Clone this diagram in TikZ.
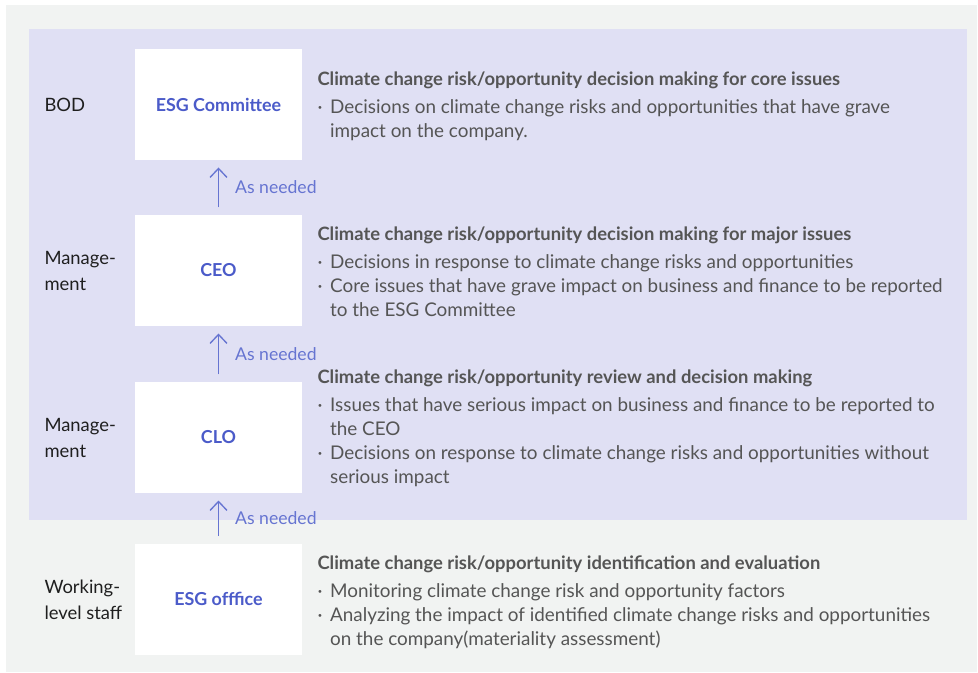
\documentclass[tikz,border=0pt]{standalone}
\usepackage{fontspec}
\setmainfont{Lato}
\usetikzlibrary{arrows.meta}

\definecolor{panelgray}{RGB}{241,243,242}
\definecolor{lavender}{RGB}{224,224,244}
\definecolor{boxblue}{RGB}{75,91,201}
\definecolor{textgray}{RGB}{85,85,85}

\tikzset{every picture/.style={line width=0.75pt}}
\tikzset{
  levelbox/.style={fill=white, minimum width=125.25pt, minimum height=83.25pt, inner sep=0pt,
    font=\fontsize{13.4}{15}\selectfont\bfseries, text=boxblue},
  leveltag/.style={anchor=west, inner sep=0pt, align=left, text=black!88,
    font=\fontsize{13.8}{19.5}\selectfont},
  roletext/.style={anchor=north west, inner sep=0pt, align=left, text=textgray,
    font=\fontsize{14.15}{18}\selectfont},
  upflow/.style={draw=boxblue!85, line width=1pt, -{Straight Barb[length=6.75pt,width=12.75pt]}},
  asneeded/.style={anchor=west, inner sep=0pt, xshift=12pt, text=boxblue!85,
    font=\fontsize{13.2}{15}\selectfont}
}
\newcommand{\bul}{\makebox[9.5pt][l]{·}}
\newcommand{\cont}{\hspace*{9.5pt}}
\newcommand{\ttl}[1]{{\fontsize{13.8}{18}\selectfont\bfseries #1}}

\begin{document}
\begin{tikzpicture}[x=0.75pt,y=0.75pt,yscale=-1,xscale=1]
\path[use as bounding box] (0,0) rectangle (978,673);

%Shape: Panels
\fill [panelgray] (6,5) rectangle (977,672);
\fill [lavender] (29,29) rectangle (967,520);

%Shape: Level Boxes
\node [levelbox] (esgcom) at (218.5,104.5) {ESG Committee};
\node [levelbox] (ceo) at (218.5,270.5) {CEO};
\node [levelbox] (clo) at (218.5,437.5) {CLO};
\node [levelbox] (esgoff) at (218.5,599) {ESG offfice};

%Straight Lines
\draw [upflow] ([yshift=-5.25pt]ceo.north) -- node [asneeded] {As needed} ([yshift=5.25pt]esgcom.south);
\draw [upflow] ([yshift=-5.25pt]clo.north) -- node [asneeded] {As needed} ([yshift=5.25pt]ceo.south);
\draw [upflow] ([yshift=-5.25pt]esgoff.north) -- node [asneeded] {As needed} ([yshift=5.25pt]clo.south);

% Text Node
\node [leveltag] (tagbod) at (44,105) {BOD};
% Text Node
\node [leveltag] (tagceo) at (44,271) {Manage-\\ment};
% Text Node
\node [leveltag] (tagclo) at (44,438) {Manage-\\ment};
% Text Node
\node [leveltag] (tagoff) at (44,600) {Working-\\level staff};

% Text Node
\node [roletext] (txtbod) at (317,71) {\ttl{Climate change risk/opportunity decision making for core issues}\\[3pt]
\bul Decisions on climate change risks and opportunities that have grave\\
\cont impact on the company.};
% Text Node
\node [roletext] (txtceo) at (317,226) {\ttl{Climate change risk/opportunity decision making for major issues}\\[3pt]
\bul Decisions in response to climate change risks and opportunities\\
\bul Core issues that have grave impact on business and finance to be reported\\
\cont to the ESG Committee};
% Text Node
\node [roletext] (txtclo) at (317,369) {\ttl{Climate change risk/opportunity review and decision making}\\[3pt]
\bul Issues that have serious impact on business and finance to be reported to\\
\cont the CEO\\
\bul Decisions on response to climate change risks and opportunities without\\
\cont serious impact};
% Text Node
\node [roletext] (txtoff) at (317,555) {\ttl{Climate change risk/opportunity identification and evaluation}\\[3pt]
\bul Monitoring climate change risk and opportunity factors\\
\bul Analyzing the impact of identified climate change risks and opportunities\\
\cont on the company(materiality assessment)};

\end{tikzpicture}
\end{document}
